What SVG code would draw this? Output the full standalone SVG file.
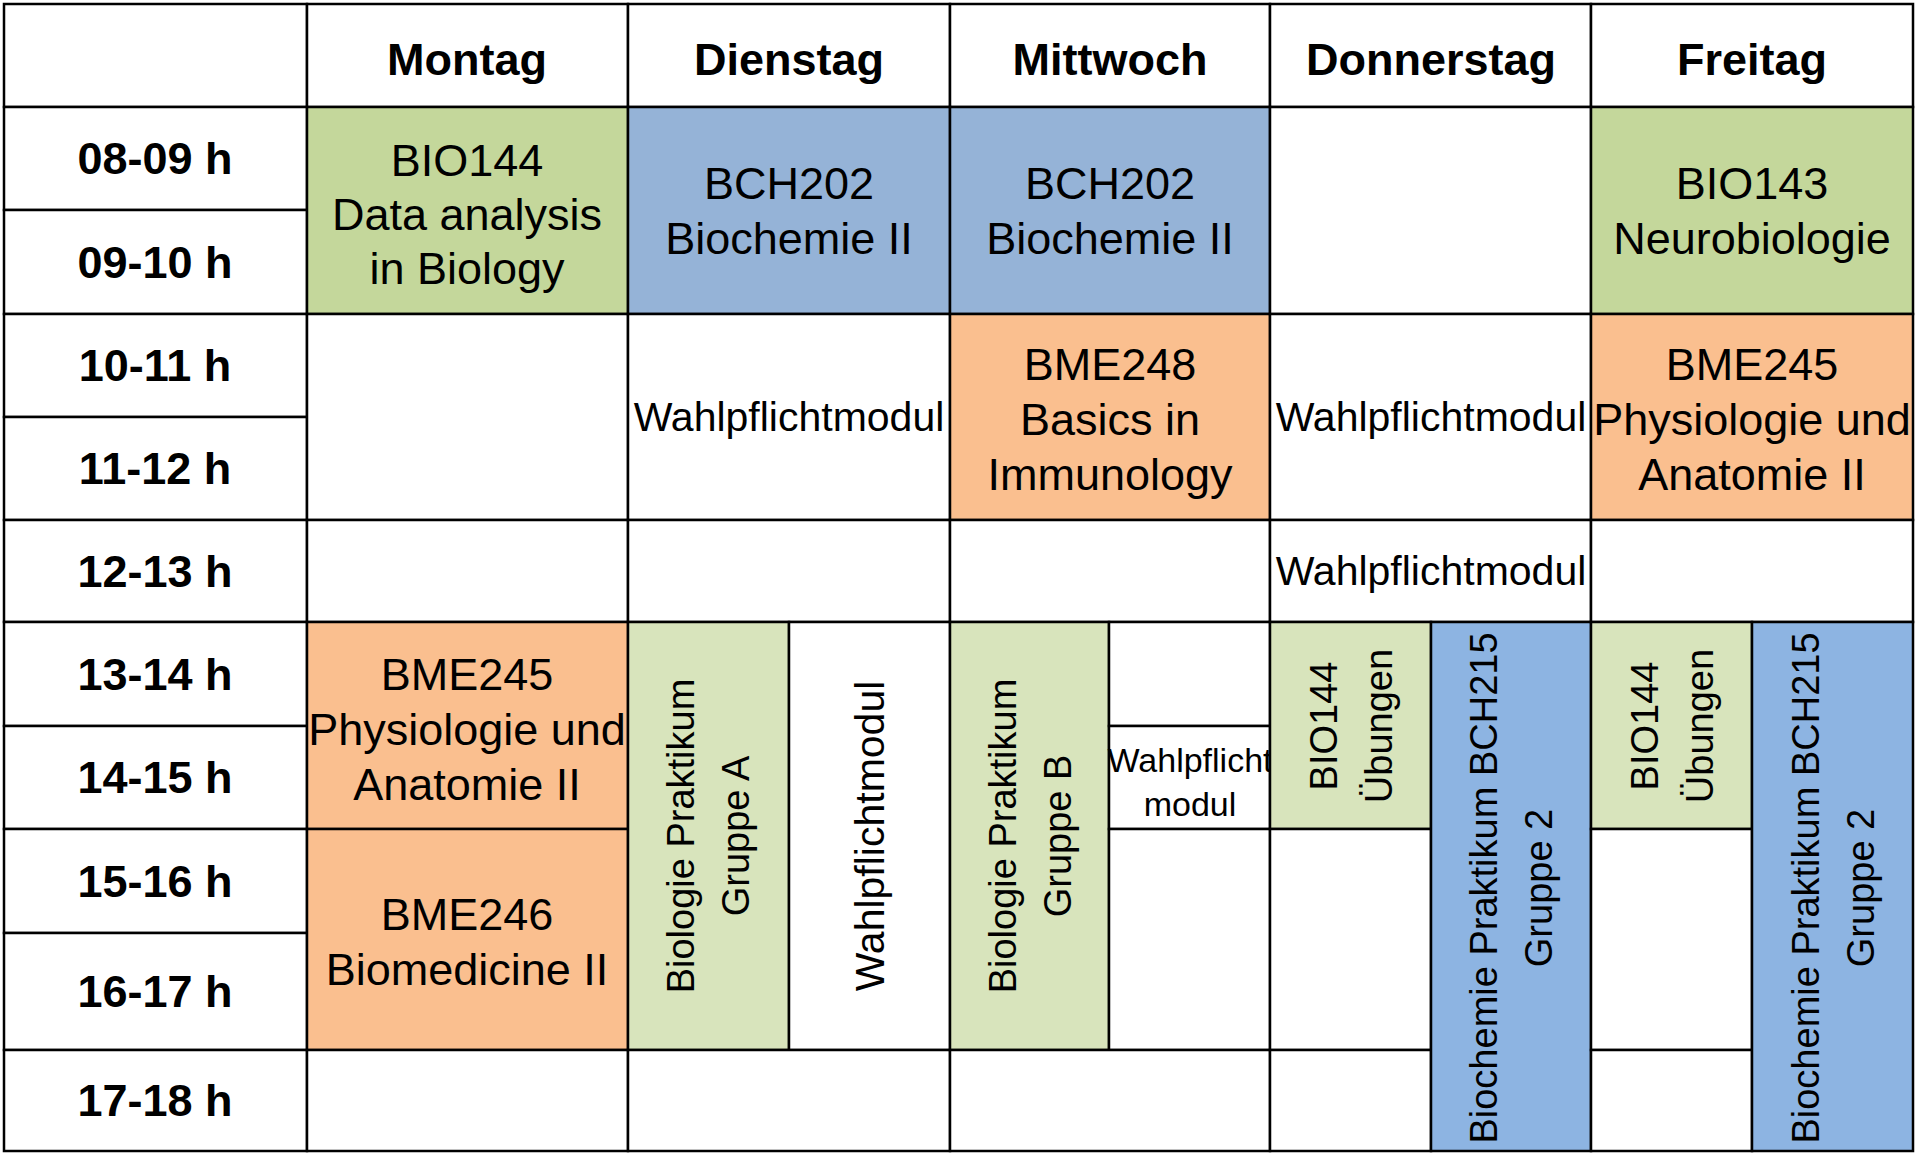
<svg xmlns="http://www.w3.org/2000/svg" width="1920" height="1164" viewBox="0 0 1920 1164">
<style>
.c{stroke:#000;stroke-width:2.5}
.w{fill:#fff}.g{fill:#C4D79B}.b{fill:#95B3D7}.o{fill:#FABF8F}.lg{fill:#D8E4BC}.bb{fill:#8DB4E2}
text{font-family:"Liberation Sans Narrow","Arial Narrow","Liberation Sans",sans-serif;fill:#000;text-anchor:middle}
.h{font-weight:bold;font-size:45px}
.t{font-size:45px}
.wp{font-size:41px}
.sm{font-size:34px}
.r{font-family:"Liberation Sans",Arial,sans-serif;font-size:38px}
</style>
<rect x="0" y="0" width="1920" height="1164" fill="#fff"/>
<g id="header">
<rect class="c w" x="4" y="4" width="303" height="103"/>
<rect class="c w" x="307" y="4" width="321" height="103"/><text class="h" x="467" y="75">Montag</text>
<rect class="c w" x="628" y="4" width="322" height="103"/><text class="h" x="789" y="75">Dienstag</text>
<rect class="c w" x="950" y="4" width="320" height="103"/><text class="h" x="1110" y="75">Mittwoch</text>
<rect class="c w" x="1270" y="4" width="321" height="103"/><text class="h" x="1431" y="75">Donnerstag</text>
<rect class="c w" x="1591" y="4" width="322" height="103"/><text class="h" x="1752" y="75">Freitag</text>
</g>
<g id="times">
<rect class="c w" x="4" y="107" width="303" height="103"/><text class="h" x="155" y="174">08-09 h</text>
<rect class="c w" x="4" y="210" width="303" height="104"/><text class="h" x="155" y="278">09-10 h</text>
<rect class="c w" x="4" y="314" width="303" height="103"/><text class="h" x="155" y="381">10-11 h</text>
<rect class="c w" x="4" y="417" width="303" height="103"/><text class="h" x="155" y="484">11-12 h</text>
<rect class="c w" x="4" y="520" width="303" height="102"/><text class="h" x="155" y="587">12-13 h</text>
<rect class="c w" x="4" y="622" width="303" height="104"/><text class="h" x="155" y="690">13-14 h</text>
<rect class="c w" x="4" y="726" width="303" height="103"/><text class="h" x="155" y="793">14-15 h</text>
<rect class="c w" x="4" y="829" width="303" height="104"/><text class="h" x="155" y="897">15-16 h</text>
<rect class="c w" x="4" y="933" width="303" height="117"/><text class="h" x="155" y="1007">16-17 h</text>
<rect class="c w" x="4" y="1050" width="303" height="101"/><text class="h" x="155" y="1116">17-18 h</text>
</g>
<g id="montag">
<rect class="c g" x="307" y="107" width="321" height="207"/>
<text class="t" x="467" y="176">BIO144</text><text class="t" x="467" y="230">Data analysis</text><text class="t" x="467" y="284">in Biology</text>
<rect class="c w" x="307" y="314" width="321" height="206"/>
<rect class="c w" x="307" y="520" width="321" height="102"/>
<rect class="c o" x="307" y="622" width="321" height="207"/>
<text class="t" x="467" y="690">BME245</text><text class="t" x="467" y="745">Physiologie und</text><text class="t" x="467" y="800">Anatomie II</text>
<rect class="c o" x="307" y="829" width="321" height="221"/>
<text class="t" x="467" y="930">BME246</text><text class="t" x="467" y="985">Biomedicine II</text>
<rect class="c w" x="307" y="1050" width="321" height="101"/>
</g>
<g id="dienstag">
<rect class="c b" x="628" y="107" width="322" height="207"/>
<text class="t" x="789" y="199">BCH202</text><text class="t" x="789" y="254">Biochemie II</text>
<rect class="c w" x="628" y="314" width="322" height="206"/>
<text class="wp" x="789" y="431">Wahlpflichtmodul</text>
<rect class="c w" x="628" y="520" width="322" height="102"/>
<rect class="c lg" x="628" y="622" width="161" height="428"/>
<text class="r" transform="translate(708,836) rotate(-90)"><tspan x="0" y="-14">Biologie Praktikum</tspan><tspan x="0" y="41">Gruppe A</tspan></text>
<rect class="c w" x="789" y="622" width="161" height="428"/>
<text class="wp" transform="translate(870,836) rotate(-90)" x="0" y="14">Wahlpflichtmodul</text>
<rect class="c w" x="628" y="1050" width="322" height="101"/>
</g>
<g id="mittwoch">
<rect class="c b" x="950" y="107" width="320" height="207"/>
<text class="t" x="1110" y="199">BCH202</text><text class="t" x="1110" y="254">Biochemie II</text>
<rect class="c o" x="950" y="314" width="320" height="206"/>
<text class="t" x="1110" y="380">BME248</text><text class="t" x="1110" y="435">Basics in</text><text class="t" x="1110" y="490">Immunology</text>
<rect class="c w" x="950" y="520" width="320" height="102"/>
<rect class="c lg" x="950" y="622" width="159" height="428"/>
<text class="r" transform="translate(1030,836) rotate(-90)"><tspan x="0" y="-14">Biologie Praktikum</tspan><tspan x="0" y="41">Gruppe B</tspan></text>
<rect class="c w" x="1109" y="622" width="161" height="104"/>
<rect class="c w" x="1109" y="726" width="161" height="103"/>
<text class="sm" x="1190" y="772">Wahlpflicht</text><text class="sm" x="1190" y="816">modul</text>
<rect class="c w" x="1109" y="829" width="161" height="221"/>
<rect class="c w" x="950" y="1050" width="320" height="101"/>
</g>
<g id="donnerstag">
<rect class="c w" x="1270" y="107" width="321" height="207"/>
<rect class="c w" x="1270" y="314" width="321" height="206"/>
<text class="wp" x="1431" y="431">Wahlpflichtmodul</text>
<rect class="c w" x="1270" y="520" width="321" height="102"/>
<text class="wp" x="1431" y="585">Wahlpflichtmodul</text>
<rect class="c lg" x="1270" y="622" width="161" height="207"/>
<text class="r" transform="translate(1351,726) rotate(-90)"><tspan x="0" y="-14">BIO144</tspan><tspan x="0" y="41">Übungen</tspan></text>
<rect class="c w" x="1270" y="829" width="161" height="221"/>
<rect class="c w" x="1270" y="1050" width="161" height="101"/>
<rect class="c bb" x="1431" y="622" width="160" height="529"/>
<text class="r" transform="translate(1511,888) rotate(-90)"><tspan x="0" y="-14">Biochemie Praktikum BCH215</tspan><tspan x="0" y="41">Gruppe 2</tspan></text>
</g>
<g id="freitag">
<rect class="c g" x="1591" y="107" width="322" height="207"/>
<text class="t" x="1752" y="199">BIO143</text><text class="t" x="1752" y="254">Neurobiologie</text>
<rect class="c o" x="1591" y="314" width="322" height="206"/>
<text class="t" x="1752" y="380">BME245</text><text class="t" x="1752" y="435">Physiologie und</text><text class="t" x="1752" y="490">Anatomie II</text>
<rect class="c w" x="1591" y="520" width="322" height="102"/>
<rect class="c lg" x="1591" y="622" width="161" height="207"/>
<text class="r" transform="translate(1672,726) rotate(-90)"><tspan x="0" y="-14">BIO144</tspan><tspan x="0" y="41">Übungen</tspan></text>
<rect class="c w" x="1591" y="829" width="161" height="221"/>
<rect class="c w" x="1591" y="1050" width="161" height="101"/>
<rect class="c bb" x="1752" y="622" width="161" height="529"/>
<text class="r" transform="translate(1833,888) rotate(-90)"><tspan x="0" y="-14">Biochemie Praktikum BCH215</tspan><tspan x="0" y="41">Gruppe 2</tspan></text>
</g>
<g id="connectors"></g>
</svg>
